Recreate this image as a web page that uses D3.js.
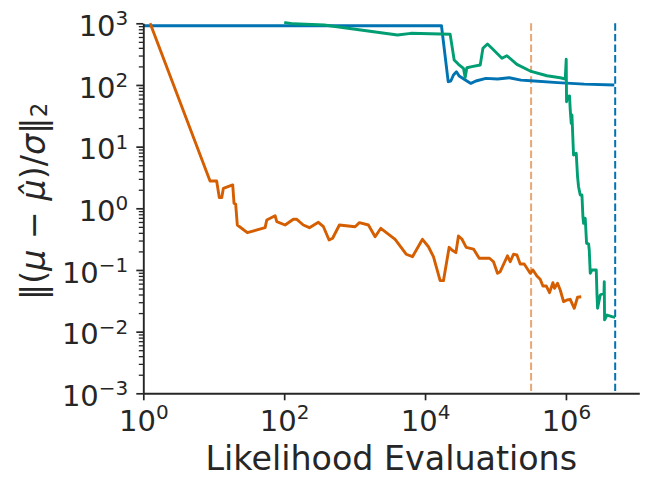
<!DOCTYPE html>
<html>
<head>
<meta charset="utf-8">
<script src="https://cdn.jsdelivr.net/npm/d3@7"></script>
<style>
  body { margin: 0; background: #fff; }
  text { font-family: "DejaVu Sans", sans-serif; fill: #262626; }
</style>
</head>
<body>
<svg id="chart" width="648" height="487"></svg>
<script>
// likelihood evaluations vs error
const blueRun = [
  [1, 914], [17100, 914], [21300, 113], [23200, 116], [25300, 145], [27900, 164],
  [30500, 140], [35900, 124], [44700, 106], [52700, 116], [73100, 128], [106800, 125],
  [156600, 131], [229600, 120], [318000, 117], [760000, 109], [1820000, 103], [4860000, 100]
];

const orangeRun = [
  [1.25, 1000], [8.86, 2.77], [11.0, 2.77], [12.0, 1.49], [13.0, 1.49], [13.7, 2.11],
  [18.6, 2.39], [19.4, 1.21], [20.5, 1.16], [21.6, 0.536], [30.0, 0.402], [53.6, 0.485],
  [56.6, 0.646], [74.3, 0.759], [78.5, 0.607], [103, 0.536], [135, 0.663], [151, 0.663],
  [187, 0.536], [228, 0.485], [306, 0.593], [361, 0.503], [434, 0.306], [487, 0.327],
  [608, 0.536], [1016, 0.503], [1170, 0.585], [1570, 0.536], [1955, 0.346], [2355, 0.474],
  [3760, 0.314], [5390, 0.180], [6630, 0.164], [9190, 0.314], [11170, 0.238], [13150, 0.164],
  [16370, 0.0671], [18240, 0.0671], [21980, 0.233], [24030, 0.211], [27400, 0.191],
  [29800, 0.356], [33300, 0.318], [38400, 0.233], [48700, 0.218], [58700, 0.155],
  [82200, 0.155], [93700, 0.136], [106700, 0.0883], [116600, 0.0938], [148000, 0.170],
  [161700, 0.136], [180100, 0.180], [201400, 0.175], [224300, 0.125], [255600, 0.125],
  [311000, 0.0883], [340000, 0.1], [387000, 0.080], [431000, 0.0707], [471000, 0.0551],
  [525000, 0.0551], [585000, 0.0429], [653000, 0.0622], [689000, 0.0504], [760000, 0.0608],
  [830000, 0.0473], [925000, 0.0306], [1033000, 0.0326], [1151000, 0.0334],
  [1312000, 0.0239], [1462000, 0.0361], [1649000, 0.0368]
];

const greenRun = [
  [100, 1040], [134, 981], [369, 938], [4060, 646], [6290, 688], [22700, 663],
  [25900, 254], [29800, 216], [35100, 186], [37100, 132], [39200, 190], [46200, 198],
  [60700, 211], [66300, 393], [76900, 461], [88900, 393], [123300, 271], [145000, 298],
  [201000, 216], [311000, 168], [537000, 141], [830000, 131], [977000, 125],
  [1009000, 261], [1020000, 53.5], [1054000, 64.5], [1125000, 66.3], [1151000, 39.3],
  [1189000, 23.9], [1217000, 32.6], [1257000, 12.8], [1282000, 7.32], [1400000, 7.79],
  [1462000, 3.25], [1510000, 2.24], [1596000, 1.64], [1687000, 1.64], [1742000, 0.731],
  [1778000, 0.571], [1879000, 0.689], [1963000, 0.271], [2095000, 0.264], [2143000, 0.211],
  [2213000, 0.0883], [2340000, 0.1], [2693000, 0.1], [2755000, 0.0418], [2811000, 0.0239],
  [3070000, 0.0393], [3467000, 0.0423], [3500000, 0.0645], [3534000, 0.0155],
  [3822000, 0.0186], [4500000, 0.0175], [5010000, 0.0171]
];

// budget markers (dashed verticals)
const budgetOrange = 320000;
const budgetBlue = 5000000;

const xMajor = [1, 1e2, 1e4, 1e6];
const yMajor = [1e-3, 1e-2, 1e-1, 1e0, 1e1, 1e2, 1e3];

const svg = d3.select("#chart");
const plotLeft = 143.3, plotRight = 639.3, plotTop = 23.3, plotBottom = 393.3;
const ink = "#262626";

const x = d3.scaleLog().domain([1, 1.1e7]).range([plotLeft, plotRight]);
const y = d3.scaleLog().domain([1e-3, 1e3]).range([plotBottom, plotTop]);

const yMinor = [];
for (let e = -3; e < 3; e++) {
  for (let k = 2; k <= 9; k++) yMinor.push(k * Math.pow(10, e));
}

const supText = v => {
  const e = Math.round(Math.log10(v));
  return e < 0 ? "\u2212" + (-e) : String(e);
};

svg.append("clipPath").attr("id", "plot-clip")
  .append("rect")
  .attr("x", plotLeft).attr("y", plotTop - 2)
  .attr("width", plotRight - plotLeft).attr("height", plotBottom - plotTop + 2);

// dashed budget lines
svg.append("line")
  .attr("x1", x(budgetOrange)).attr("x2", x(budgetOrange))
  .attr("y1", plotTop).attr("y2", plotBottom)
  .attr("stroke", "#d55e00").attr("stroke-opacity", 0.55)
  .attr("stroke-width", 2).attr("stroke-dasharray", "7.4,3.2");

svg.append("line")
  .attr("x1", x(budgetBlue)).attr("x2", x(budgetBlue))
  .attr("y1", plotTop).attr("y2", plotBottom)
  .attr("stroke", "#0173b2")
  .attr("stroke-width", 2).attr("stroke-dasharray", "7.4,3.2");

const line = d3.line().x(d => x(d[0])).y(d => y(d[1]));

const runs = [
  { data: blueRun, color: "#0173b2" },
  { data: orangeRun, color: "#d55e00" },
  { data: greenRun, color: "#029e73" }
];

svg.append("g").attr("clip-path", "url(#plot-clip)")
  .selectAll("path")
  .data(runs)
  .join("path")
  .attr("d", d => line(d.data))
  .attr("fill", "none")
  .attr("stroke", d => d.color)
  .attr("stroke-width", 2.9)
  .attr("stroke-linejoin", "round");

// y axis: minor ticks then majors with labels
const gy = svg.append("g").attr("transform", `translate(${plotLeft},0)`);
gy.call(d3.axisLeft(y).tickValues(yMinor).tickSize(4.5).tickSizeOuter(0).tickFormat(""));
gy.selectAll(".tick line").attr("stroke", ink).attr("stroke-width", 1.3);
gy.selectAll(".tick text").remove();
gy.select(".domain").remove();

const gyMajor = svg.append("g").attr("transform", `translate(${plotLeft},0)`);
gyMajor.call(d3.axisLeft(y).tickValues(yMajor).tickSize(7).tickPadding(8).tickSizeOuter(0).tickFormat(""));
gyMajor.select(".domain").attr("stroke", ink).attr("stroke-width", 1.9);
gyMajor.selectAll(".tick line").attr("stroke", ink).attr("stroke-width", 1.7);
gyMajor.selectAll(".tick text")
  .attr("dy", "12.3px")
  .attr("font-size", "29px")
  .attr("fill", ink)
  .each(function(d) {
    const t = d3.select(this);
    t.append("tspan").text("10");
    t.append("tspan").attr("dy", "-10.7px").attr("font-size", "20px").text(supText(d));
  });

// x axis
const gx = svg.append("g").attr("transform", `translate(0,${plotBottom})`);
gx.call(d3.axisBottom(x).tickValues(xMajor).tickSize(7).tickSizeOuter(0).tickFormat(""));
gx.select(".domain").attr("stroke", ink).attr("stroke-width", 1.9);
gx.selectAll(".tick line").attr("stroke", ink).attr("stroke-width", 1.7);
gx.selectAll(".tick text")
  .attr("y", 37.4)
  .attr("dy", 0)
  .attr("font-size", "29px")
  .attr("fill", ink)
  .each(function(d) {
    const t = d3.select(this);
    t.append("tspan").text("10");
    t.append("tspan").attr("dy", "-11.4px").attr("font-size", "20px").text(supText(d));
  });

svg.selectAll("g text").attr("font-family", "DejaVu Sans, sans-serif");

// axis titles
svg.append("text")
  .attr("x", (plotLeft + plotRight) / 2).attr("y", 470)
  .attr("text-anchor", "middle")
  .attr("font-size", "33.3px")
  .text("Likelihood Evaluations");

const ylab = svg.append("text")
  .attr("transform", "translate(45,201.5) rotate(-90)")
  .attr("text-anchor", "middle")
  .attr("font-size", "33.3px");
ylab.append("tspan").text("\u2016(");
ylab.append("tspan").attr("font-style", "italic").text("\u03bc");
ylab.append("tspan").text(" \u2212 ");
ylab.append("tspan").attr("font-style", "italic").text("\u03bc\u0302");
ylab.append("tspan").text(")/");
ylab.append("tspan").attr("font-style", "italic").text("\u03c3");
ylab.append("tspan").text("\u2016");
ylab.append("tspan").attr("font-size", "23px").attr("dy", "2px").text("2");
</script>
</body>
</html>
